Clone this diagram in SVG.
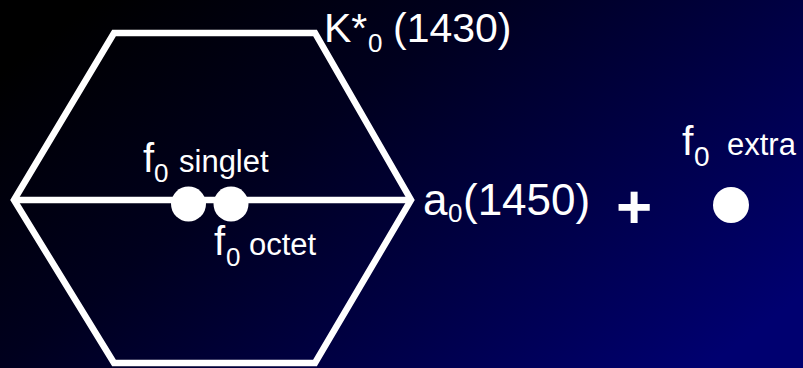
<svg xmlns="http://www.w3.org/2000/svg" width="803" height="368" viewBox="0 0 803 368">
  <defs>
    <linearGradient id="bg" x1="0" y1="0.2" x2="1" y2="0.8">
      <stop offset="0" stop-color="#000000"/>
      <stop offset="0.35" stop-color="#00001e"/>
      <stop offset="1" stop-color="#000070"/>
    </linearGradient>
    <style>
      .edge { fill: none; stroke: #ffffff; stroke-width: 6.5; stroke-linejoin: miter; stroke-miterlimit: 10; }
      .dot { fill: #ffffff; }
      text { fill: #ffffff; font-family: "Liberation Sans", Arial, sans-serif; }
      .big { font-size: 41px; }
      .f { font-size: 40px; }
      .sub { font-size: 26px; }
      .word { font-size: 31px; }
    </style>
  </defs>
  <rect x="0" y="0" width="803" height="368" fill="url(#bg)"/>

  <g id="connectors">
    <polygon class="edge" points="114,33 315,33 411,200 315,363 114,363 14,200"/>
    <line class="edge" x1="14" y1="200" x2="411" y2="200"/>
  </g>

  <g id="K0-1430">
    <text class="big" y="42"><tspan x="324">K*</tspan><tspan class="sub" x="368" y="52">0</tspan><tspan x="393" y="42">(1430)</tspan></text>
  </g>

  <g id="a0-1450">
    <text style="font-size:44px" y="215"><tspan x="423">a</tspan><tspan class="sub" x="448" y="222">0</tspan><tspan x="463" y="215">(1450)</tspan></text>
  </g>

  <g id="f0-singlet">
    <circle class="dot" cx="188.5" cy="204" r="17.5"/>
    <text y="172"><tspan class="f" x="143">f</tspan><tspan class="sub" x="154" y="182">0</tspan><tspan class="word" x="179" y="172">singlet</tspan></text>
  </g>

  <g id="f0-octet">
    <circle class="dot" cx="231" cy="204" r="17.5"/>
    <text y="255"><tspan class="f" x="214">f</tspan><tspan class="sub" x="226" y="266">0</tspan><tspan class="word" x="249" y="255">octet</tspan></text>
  </g>

  <g id="plus">
    <text x="634" y="228" text-anchor="middle" style="font-size:62px;font-weight:bold">+</text>
  </g>

  <g id="f0-extra">
    <circle class="dot" cx="731" cy="205" r="18"/>
    <text y="155"><tspan style="font-size:41px" x="682">f</tspan><tspan style="font-size:28px" x="694" y="166">0</tspan><tspan class="word" x="727" y="155">extra</tspan></text>
  </g>
</svg>
